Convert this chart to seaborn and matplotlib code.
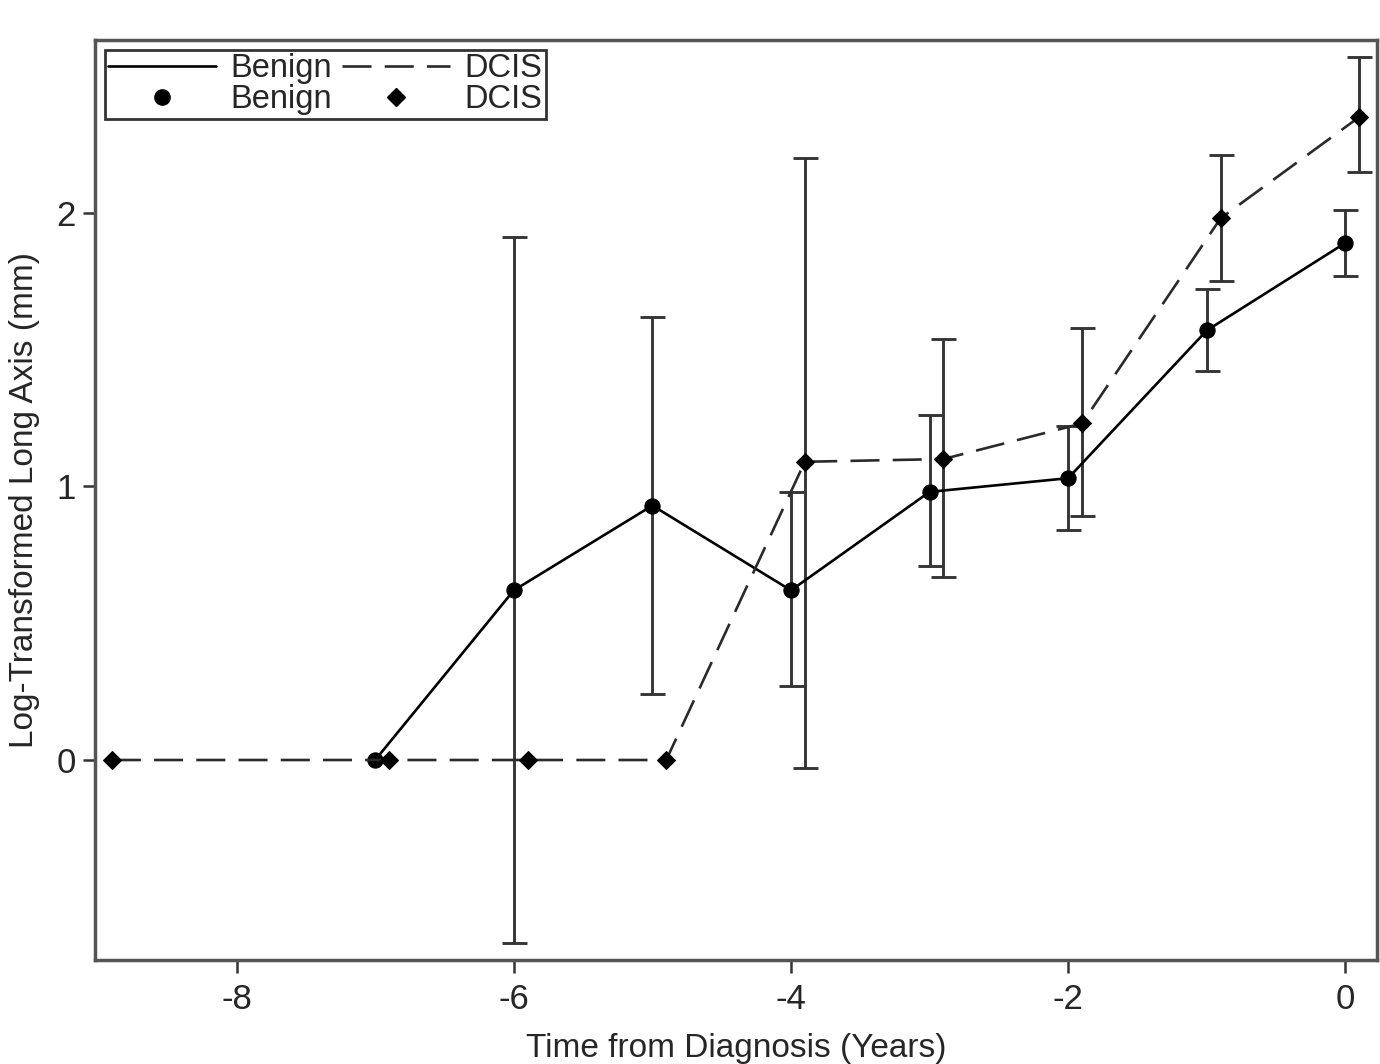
import numpy as np
import pandas as pd
import seaborn as sns
from matplotlib import pyplot as plt
from matplotlib.lines import Line2D

# values
benign_time = [-7, -6, -5, -4, -3, -2, -1, 0]
benign_mean = [0.0, 0.62, 0.93, 0.62, 0.98, 1.03, 1.57, 1.89]
benign_low = [np.nan, -0.67, 0.24, 0.27, 0.71, 0.84, 1.42, 1.77]
benign_high = [np.nan, 1.91, 1.62, 0.98, 1.26, 1.22, 1.72, 2.01]

dcis_time = [-8.9, -6.9, -5.9, -4.9, -3.9, -2.9, -1.9, -0.9, 0.1]
dcis_mean = [0.0, 0.0, 0.0, 0.0, 1.09, 1.10, 1.23, 1.98, 2.35]
dcis_low = [np.nan, np.nan, np.nan, np.nan, -0.03, 0.67, 0.89, 1.75, 2.15]
dcis_high = [np.nan, np.nan, np.nan, np.nan, 2.20, 1.54, 1.58, 2.21, 2.57]

df = pd.concat([
    pd.DataFrame({'time': benign_time, 'value': benign_mean, 'low': benign_low,
                  'high': benign_high, 'group': 'Benign'}),
    pd.DataFrame({'time': dcis_time, 'value': dcis_mean, 'low': dcis_low,
                  'high': dcis_high, 'group': 'DCIS'}),
])

sns.set_style('ticks')
plt.rcParams['font.family'] = ['Liberation Sans', 'DejaVu Sans']
plt.rcParams['axes.unicode_minus'] = False

fig = plt.figure(figsize=(13.8, 10.64), dpi=100)
ax = fig.add_axes([0.069, 0.098, 0.929, 0.864])

# error bars first so markers sit on top
for grp in ['Benign', 'DCIS']:
    sub = df[(df['group'] == grp) & df['low'].notna()]
    ax.errorbar(sub['time'], sub['value'],
                yerr=[sub['value'] - sub['low'], sub['high'] - sub['value']],
                fmt='none', ecolor='#363636', elinewidth=2.1, capsize=9,
                capthick=2.1, zorder=2)

sns.lineplot(data=df, x='time', y='value', style='group',
             markers={'Benign': 'o', 'DCIS': 'D'},
             dashes={'Benign': '', 'DCIS': (11, 5)},
             color='black', linewidth=1.9, markersize=11,
             markeredgecolor='black', legend=False, ax=ax, zorder=3)
for ln in ax.lines:
    if ln.get_marker() == 'D':
        ln.set_color('#2a2a2a')
        ln.set_markerfacecolor('black')
        ln.set_markersize(9)

ax.set_xlim(-9.02, 0.23)
ax.set_ylim(-0.73, 2.63)
ax.set_xticks([-8, -6, -4, -2, 0])
ax.set_yticks([0, 1, 2])
ax.tick_params(axis='both', labelsize=25, length=9, width=1.8, color='#333333')
ax.tick_params(axis='x', pad=8)
ax.tick_params(axis='y', pad=5)
ax.set_xlabel('Time from Diagnosis (Years)', fontsize=24, labelpad=12)
ax.set_ylabel('Log-Transformed Long Axis (mm)', fontsize=24, labelpad=12)
for sp in ax.spines.values():
    sp.set_visible(True)
    sp.set_color('#555555')
    sp.set_linewidth(2.5)

handles = [
    Line2D([], [], color='black', linewidth=1.9),
    Line2D([], [], color='black', marker='o', linestyle='none', markersize=11),
    Line2D([], [], color='#2a2a2a', linewidth=1.9, dashes=(11, 5)),
    Line2D([], [], color='black', marker='D', linestyle='none', markersize=9),
]
labels = ['Benign', 'Benign', 'DCIS', 'DCIS']
leg = ax.legend(handles, labels, ncol=2, loc='upper left', fontsize=23.5,
                frameon=True, fancybox=False, edgecolor='black',
                handlelength=3.3, handletextpad=0.45, columnspacing=0.3,
                labelspacing=0.0, borderpad=0.1, borderaxespad=0.3)
leg.get_frame().set_linewidth(2.0)

fig.savefig('out.png', dpi=100, facecolor='white')
